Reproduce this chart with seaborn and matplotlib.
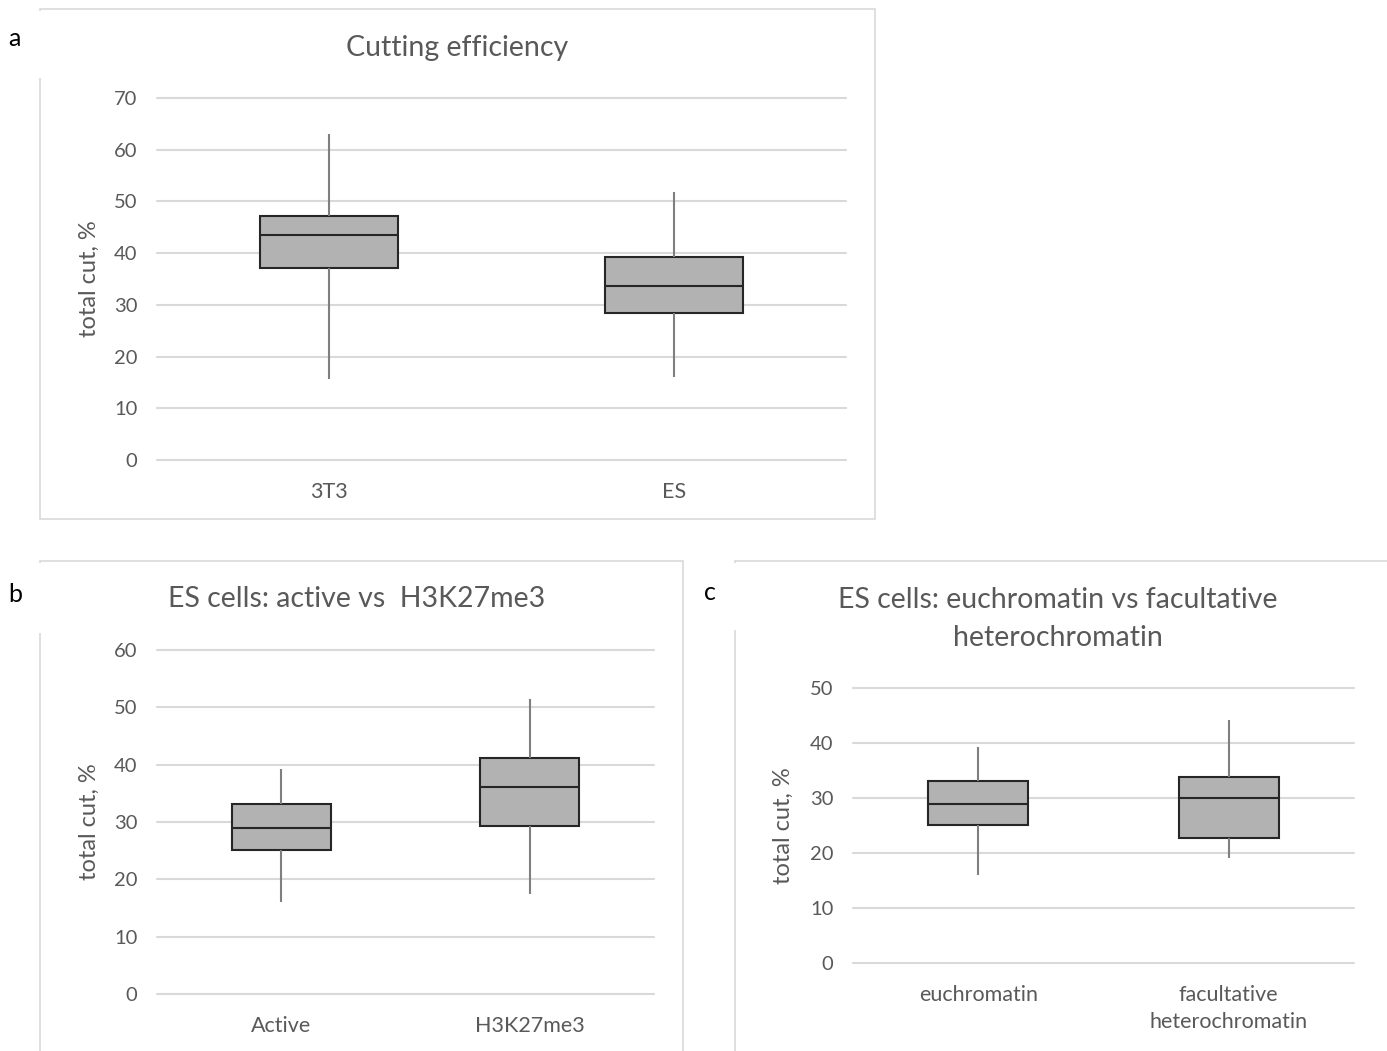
import numpy as np
import pandas as pd
import matplotlib
matplotlib.use("Agg")
import matplotlib.pyplot as plt
from matplotlib.patches import Rectangle
import seaborn as sns

# box summary values: [min, Q1, median, Q3, max]
groups_a = ["3T3", "ES"]
cut_3t3 = [15.7, 37.1, 43.5, 47.2, 63.0]
cut_es = [16.1, 28.4, 33.7, 39.3, 51.8]

groups_b = ["Active", "H3K27me3"]
cut_active = [16.0, 25.1, 29.0, 33.1, 39.2]
cut_h3k27 = [17.4, 29.3, 36.1, 41.2, 51.5]

groups_c = ["euchromatin", "facultative\nheterochromatin"]
cut_eu = [16.0, 25.1, 28.9, 33.1, 39.3]
cut_fac = [19.1, 22.7, 30.0, 33.8, 44.2]

titles = ["Cutting efficiency", "ES cells: active vs  H3K27me3",
          "ES cells: euchromatin vs facultative\nheterochromatin"]
ylabel = "total cut, %"

sns.set_theme(style="white")
plt.rcParams['font.family'] = ['Lato', 'DejaVu Sans']

W, H = 1387, 1051
fig = plt.figure(figsize=(W / 100, H / 100), dpi=100)

TEXT = "#595959"
GRID = "#d9d9d9"


def px_axes(x0, x1, y_top, y_bot):
    return fig.add_axes([x0 / W, 1 - y_bot / H, (x1 - x0) / W, (y_bot - y_top) / H])


def draw_box(ax, groups, series, ymax, step, ylab_x):
    df = pd.DataFrame({
        "group": np.repeat(groups, [len(s) for s in series]),
        "cut": np.concatenate(series),
    })
    sns.boxplot(data=df, x="group", y="cut", order=groups, ax=ax, width=0.4,
                whis=(0, 100), color="#b2b2b2", saturation=1, showcaps=False,
                linecolor="#262626", linewidth=1.5,
                whiskerprops=dict(color="#7f7f7f", linewidth=1.5),
                medianprops=dict(color="#262626", linewidth=1.5),
                boxprops=dict(edgecolor="#262626", linewidth=1.5))
    ax.set_xlim(-0.5, len(groups) - 0.5)
    ax.set_ylim(0, ymax)
    ax.set_yticks(np.arange(0, ymax + 1, step))
    ax.set_axisbelow(True)
    ax.yaxis.grid(True, color=GRID, linewidth=1.5)
    for g in ax.yaxis.get_gridlines():
        g.set_clip_on(False)
    for s in ax.spines.values():
        s.set_visible(False)
    ax.tick_params(axis="y", length=0, pad=14, labelsize=14.5, labelcolor=TEXT)
    ax.tick_params(axis="x", length=0, pad=16, labelsize=15.5, labelcolor=TEXT)
    for lbl in ax.get_xticklabels():
        lbl.set_linespacing(1.45)
    ax.set_xlabel("")
    ax.set_ylabel(ylabel, fontsize=17, color=TEXT)
    ax.yaxis.set_label_coords(ylab_x, 0.5)


def frame(x0, x1, y0, y1, gap_bottom):
    fig.add_artist(Rectangle((x0 / W, 1 - y1 / H), (x1 - x0) / W, (y1 - y0) / H,
                             transform=fig.transFigure, fill=False,
                             edgecolor="#d9d9d9", linewidth=1.2, zorder=0))
    # white patch where the panel letter breaks the left border
    fig.add_artist(Rectangle(((x0 - 4) / W, 1 - gap_bottom / H), 8 / W, (gap_bottom - y0 - 2) / H,
                             transform=fig.transFigure, facecolor="white",
                             edgecolor="none", zorder=1))


frame(40, 875, 9, 519, 78)
frame(40, 683, 561, 1060, 633)
frame(735, 1395, 561, 1060, 630)

ax_a = px_axes(157, 846, 98, 460)
draw_box(ax_a, groups_a, [cut_3t3, cut_es], 70, 10, -0.083)

ax_b = px_axes(157, 654, 650, 994)
draw_box(ax_b, groups_b, [cut_active, cut_h3k27], 60, 10, -0.115)

ax_c = px_axes(853, 1354, 688, 963)
draw_box(ax_c, groups_c, [cut_eu, cut_fac], 50, 10, -0.118)

fig.text(457 / W, 1 - 48 / H, titles[0], ha="center", va="center", fontsize=20.5, color=TEXT)
fig.text(357 / W, 1 - 599 / H, titles[1], ha="center", va="center", fontsize=20.5, color=TEXT)
fig.text(1058 / W, 1 - 619 / H, titles[2], ha="center", va="center", fontsize=20.5,
         color=TEXT, linespacing=1.55)

for letter, x, y in [("a", 14, 38), ("b", 15, 594), ("c", 710, 593)]:
    fig.text(x / W, 1 - y / H, letter, ha="center", va="center", fontsize=18, color="black")

fig.savefig("out.png", dpi=100, facecolor="white")
